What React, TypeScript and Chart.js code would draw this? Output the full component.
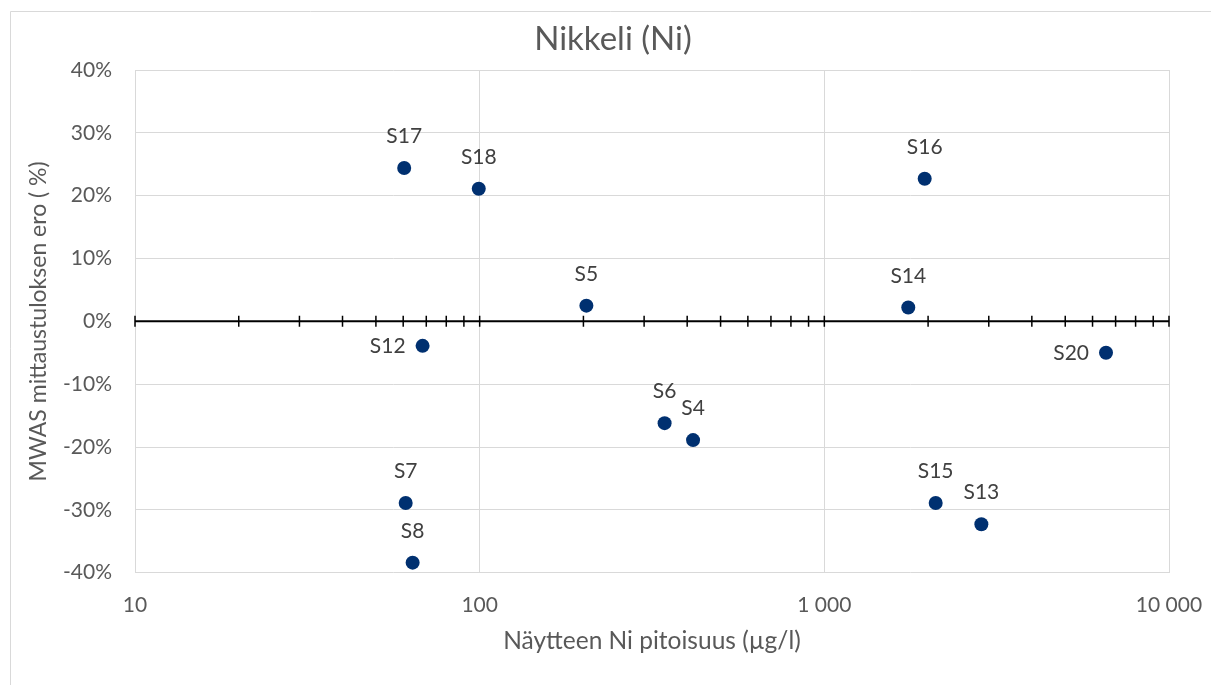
import React, { useEffect, useRef } from 'react';
import { Chart, registerables } from 'chart.js';

Chart.register(...registerables);

const chartTitle = 'Nikkeli (Ni)';
const xAxisTitle = 'Näytteen Ni pitoisuus (µg/l)';
const yAxisTitle = 'MWAS mittaustuloksen ero ( %)';

const sampleNames = ['S17', 'S18', 'S12', 'S5', 'S6', 'S4', 'S16', 'S14', 'S20', 'S7', 'S8', 'S15', 'S13'];
const concentrations = [60.4, 99.4, 68.3, 204, 344, 416, 1955, 1752, 6565, 61.0, 63.9, 2104, 2855];
const differences = [24.4, 21.1, -3.9, 2.5, -16.2, -18.9, 22.7, 2.2, -5.0, -28.9, -38.4, -28.9, -32.3];
const labelSides = ['top', 'top', 'left', 'top', 'top', 'top', 'top', 'top', 'left', 'top', 'top', 'top', 'top'];

const xTickValues = [10, 100, 1000, 10000];
const zeroAxisTicks = [
  10, 20, 30, 40, 50, 60, 70, 80, 90,
  100, 200, 300, 400, 500, 600, 700, 800, 900,
  1000, 2000, 3000, 4000, 5000, 6000, 7000, 8000, 9000,
  10000,
];
const yMin = -40;
const yMax = 40;
const yStep = 10;

const FONT = 'Lato, "Open Sans", sans-serif';
const GRID = '#d9d9d9';
const TEXT = '#595959';
const LABEL = '#404040';
const DOT = '#003070';

const formatThousands = (v: number) => String(v).replace(/\B(?=(\d{3})+(?!\d))/g, ' ');

const framePlugin = {
  id: 'frame',
  beforeDraw(chart: any) {
    const ctx = chart.ctx;
    ctx.save();
    ctx.fillStyle = '#ffffff';
    ctx.fillRect(0, 0, chart.width, chart.height);
    ctx.strokeStyle = GRID;
    ctx.lineWidth = 1;
    ctx.beginPath();
    ctx.moveTo(10.5, chart.height);
    ctx.lineTo(10.5, 11.5);
    ctx.lineTo(chart.width, 11.5);
    ctx.stroke();
    ctx.fillStyle = TEXT;
    ctx.font = `33px ${FONT}`;
    ctx.textAlign = 'center';
    ctx.textBaseline = 'middle';
    ctx.fillText(chartTitle, 613, 39);
    ctx.restore();
  },
};

const zeroAxisPlugin = {
  id: 'zeroAxis',
  beforeDatasetsDraw(chart: any) {
    const { ctx, chartArea } = chart;
    const xs = chart.scales.x;
    const ys = chart.scales.y;
    const y0 = ys.getPixelForValue(0);
    ctx.save();
    ctx.strokeStyle = '#000000';
    ctx.lineWidth = 2;
    ctx.beginPath();
    ctx.moveTo(chartArea.left, y0);
    ctx.lineTo(chartArea.right, y0);
    ctx.stroke();
    ctx.lineWidth = 1.5;
    ctx.beginPath();
    zeroAxisTicks.forEach((v) => {
      const px = xs.getPixelForValue(v);
      ctx.moveTo(px, y0 - 5.5);
      ctx.lineTo(px, y0 + 5.5);
    });
    ctx.stroke();
    ctx.restore();
  },
};

const pointLabelPlugin = {
  id: 'pointLabels',
  afterDatasetsDraw(chart: any) {
    const ctx = chart.ctx;
    const meta = chart.getDatasetMeta(0);
    ctx.save();
    ctx.fillStyle = LABEL;
    ctx.font = `21px ${FONT}`;
    ctx.textBaseline = 'middle';
    meta.data.forEach((el: any, i: number) => {
      if (labelSides[i] === 'left') {
        ctx.textAlign = 'right';
        ctx.fillText(sampleNames[i], el.x - 17, el.y);
      } else {
        ctx.textAlign = 'center';
        ctx.fillText(sampleNames[i], el.x, el.y - 31.7);
      }
    });
    ctx.restore();
  },
};

export default function App() {
  const canvasRef = useRef<HTMLCanvasElement | null>(null);

  useEffect(() => {
    if (!canvasRef.current) return;
    Chart.defaults.font.family = FONT;
    const chart = new Chart(canvasRef.current, {
      type: 'scatter',
      data: {
        datasets: [
          {
            label: 'MWAS',
            data: concentrations.map((c, i) => ({ x: c, y: differences[i] })),
            backgroundColor: DOT,
            borderWidth: 0,
            pointRadius: 7,
            pointHoverRadius: 7,
          },
        ],
      },
      options: {
        responsive: false,
        animation: false,
        events: [],
        layout: { padding: { left: 10, right: 42, top: 70, bottom: 0 } },
        plugins: {
          legend: { display: false },
          title: { display: false },
          tooltip: { enabled: false },
        },
        scales: {
          x: {
            type: 'logarithmic',
            min: 10,
            max: 10000,
            afterBuildTicks: (scale: any) => {
              scale.ticks = xTickValues.map((v) => ({ value: v }));
            },
            afterFit: (scale: any) => {
              scale.height = 112.3;
              scale.paddingLeft = 0;
              scale.paddingRight = 0;
            },
            ticks: {
              autoSkip: false,
              maxRotation: 0,
              padding: 20,
              color: TEXT,
              font: { size: 21 },
              callback: (v: any) => formatThousands(Number(v)),
            },
            grid: { color: GRID, lineWidth: 1, drawTicks: false },
            border: { display: false },
            title: {
              display: true,
              text: xAxisTitle,
              color: TEXT,
              font: { size: 24.5 },
              padding: { top: 0, bottom: 29 },
            },
          },
          y: {
            min: yMin,
            max: yMax,
            afterFit: (scale: any) => {
              scale.width = 125;
            },
            ticks: {
              stepSize: yStep,
              padding: 23,
              color: TEXT,
              font: { size: 21 },
              callback: (v: any) => `${v}%`,
            },
            grid: { color: GRID, lineWidth: 1, drawTicks: false },
            border: { display: false },
            title: {
              display: true,
              text: yAxisTitle,
              color: TEXT,
              font: { size: 23 },
              padding: { top: 15, bottom: 0 },
            },
          },
        },
      },
      plugins: [framePlugin, zeroAxisPlugin, pointLabelPlugin],
    } as any);
    return () => chart.destroy();
  }, []);

  return (
    <div style={{ position: 'fixed', left: 0, top: 0, width: 1211, height: 685, overflow: 'hidden', background: '#fff' }}>
      <canvas ref={canvasRef} width={1211} height={685} style={{ display: 'block', width: 1211, height: 685 }} />
    </div>
  );
}
